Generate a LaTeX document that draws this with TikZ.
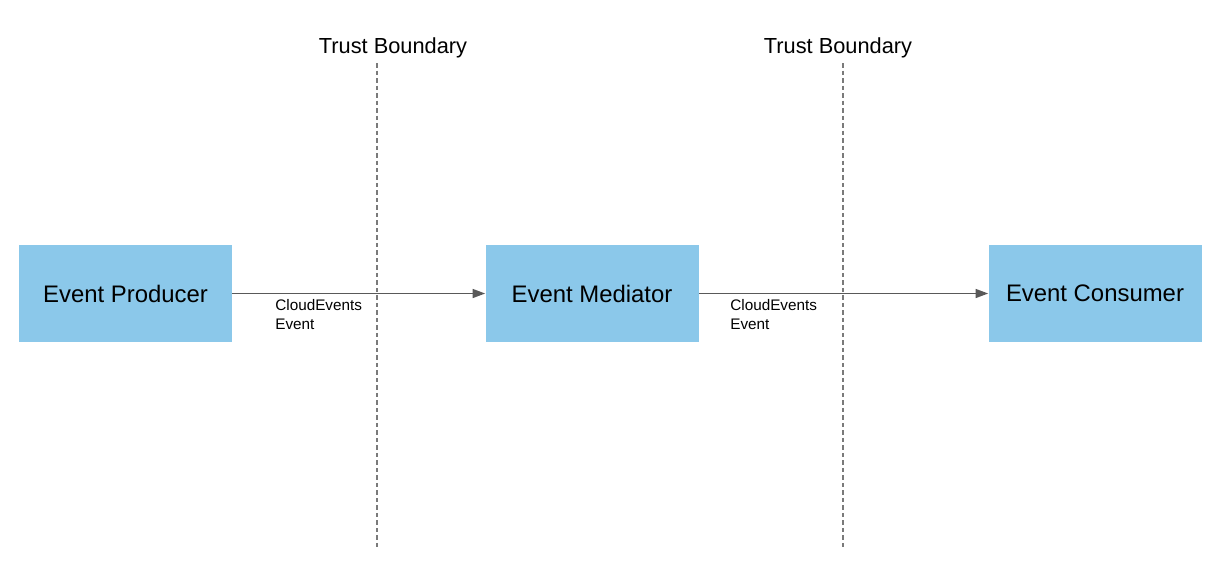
\documentclass[tikz,border=0pt]{standalone}
\usepackage{fontspec}
\setmainfont{Liberation Sans}
\usepackage{xcolor}
\usepackage{tikz}
\usetikzlibrary{shapes.geometric, arrows.meta, positioning}
\definecolor{boxblue}{HTML}{8BC8EA}
\definecolor{linegray}{HTML}{595959}
\definecolor{dashgray}{HTML}{7A7A7A}
\tikzstyle{box} = [rectangle, minimum width=4.26cm, minimum height=1.94cm, text centered, fill=boxblue, draw=none, font=\fontsize{13.6}{16}\selectfont]
\tikzstyle{arrow} = [draw=linegray, line width=0.8pt, -{Triangle[length=0.25cm, width=0.18cm]}]
\tikzstyle{boundary} = [draw=dashgray, line width=0.75pt, dash pattern=on 0.09cm off 0.06cm]
\tikzstyle{tblabel} = [font=\fontsize{12.4}{15}\selectfont, inner sep=0pt]
\tikzstyle{evlabel} = [font=\fontsize{8.7}{10.8}\selectfont, align=left, anchor=north west, inner sep=0pt]

\begin{document}
\begin{tikzpicture}
   \useasboundingbox (0,0) rectangle (24.38,-11.54);
   \node (prod) [box] at (2.51,-5.87) {Event Producer};
   \node (med) [box] at (11.84,-5.87) {Event Mediator};
   \node (cons) [box] at (21.9,-5.87) {Event Consumer};
   \coordinate (tbatop) at (7.54,-1.26);
   \coordinate (tbabot) at (7.54,-10.96);
   \coordinate (tbbtop) at (16.86,-1.26);
   \coordinate (tbbbot) at (16.86,-10.96);
   \node (tba) [tblabel] at (7.86,-0.96) {Trust Boundary};
   \node (tbb) [tblabel] at (16.76,-0.96) {Trust Boundary};
   \draw [boundary] (tbatop) -- (tbabot);
   \draw [boundary] (tbbtop) -- (tbbbot);
   \draw [arrow] (prod) -- (med);
   \draw [arrow] (med) -- (cons);
   \node (eva) [evlabel] at (5.5,-5.99) {CloudEvents\\Event};
   \node (evb) [evlabel] at (14.6,-5.99) {CloudEvents\\Event};
\end{tikzpicture}
\end{document}
